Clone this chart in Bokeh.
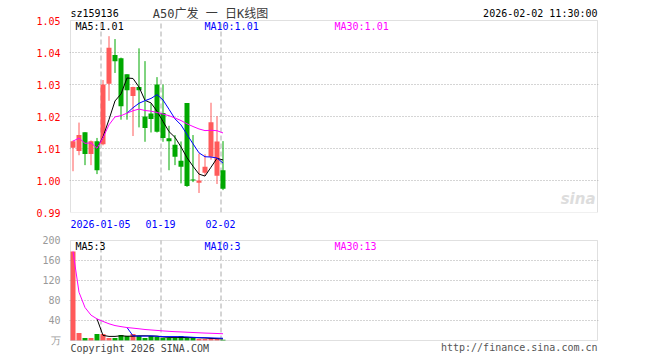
import pandas as pd
from bokeh.plotting import figure
from bokeh.layouts import column
from bokeh.models import ColumnDataSource, FixedTicker, Label, Range1d, BoxAnnotation
from bokeh.embed import file_html
from bokeh.resources import INLINE

# ---------------- data ----------------
dates = ["2025-12-25", "2025-12-26", "2025-12-29", "2025-12-30", "2025-12-31",
         "2026-01-05", "2026-01-06", "2026-01-07", "2026-01-08", "2026-01-09",
         "2026-01-12", "2026-01-13", "2026-01-14", "2026-01-15", "2026-01-16",
         "2026-01-19", "2026-01-20", "2026-01-21", "2026-01-22", "2026-01-23",
         "2026-01-26", "2026-01-27", "2026-01-28", "2026-01-29", "2026-01-30",
         "2026-02-02"]
opens = [1.0102, 1.0092, 1.0151, 1.0083, 1.0123, 1.0113, 1.0302, 1.0392, 1.0382, 1.0332,
         1.0264, 1.0292, 1.0200, 1.0209, 1.0300, 1.0211, 1.0132, 1.0112, 1.0062, 1.0242,
         1.0000, 0.9993, 1.0024, 1.0074, 1.0015, 1.0032]
highs = [1.0125, 1.0181, 1.0151, 1.0125, 1.0133, 1.0314, 1.0451, 1.0442, 1.0384, 1.0332,
         1.0293, 1.0413, 1.0373, 1.0240, 1.0323, 1.0300, 1.0171, 1.0142, 1.0122, 1.0242,
         1.0142, 1.0084, 1.0082, 1.0243, 1.0201, 1.0123]
lows = [1.0029, 1.0079, 1.0048, 1.0048, 1.0020, 1.0110, 1.0249, 1.0336, 1.0190, 1.0190,
        1.0139, 1.0166, 1.0121, 1.0150, 1.0150, 1.0121, 1.0032, 1.0048, 0.9991, 0.9980,
        0.9995, 0.9961, 1.0015, 1.0065, 0.9989, 0.9970]
closes = [1.0123, 1.0142, 1.0083, 1.0123, 1.0032, 1.0300, 1.0415, 1.0373, 1.0232, 1.0282,
          1.0292, 1.0282, 1.0164, 1.0192, 1.0152, 1.0133, 1.0123, 1.0074, 1.0043, 0.9983,
          1.0000, 1.0000, 1.0043, 1.0182, 1.0122, 0.9974]
volumes = [178, 15, 5, 5, 13, 13, 5, 5, 11, 9, 13, 9, 5, 9, 7, 5, 5, 5, 9, 5,
           5, 3, 3, 5, 3, 1.5]  # 万
price_ticks = [0.99, 1.00, 1.01, 1.02, 1.03, 1.04, 1.05]
vol_ticks = [0, 40, 80, 120, 160, 200]
vol_unit = "万"
date_tick_idx = [5, 15, 25]

code = "sz159136"
title_text = "A50广发 一 日K线图"
stamp = "2026-02-02 11:30:00"
ma_price_labels = ["MA5:1.01", "MA10:1.01", "MA30:1.01"]
ma_vol_labels = ["MA5:3", "MA10:3", "MA30:13"]
copyright_text = "Copyright 2026 SINA.COM"
url_text = "http://finance.sina.com.cn"

# ---------------- styles ----------------
RED = "#ff5a5a"
GREEN = "#00a800"
MONO = "DejaVu Sans Mono"
TITLE_FONT = "DejaVu Sans Mono, Noto Sans CJK SC"
GRID = "#aaaaaa"
BOX = "#999999"

n = len(closes)
xs = [i + 5 / 12 for i in range(n)]
colors = [RED if c > o else GREEN for o, c in zip(opens, closes)]
body_bot = [min(o, c) for o, c in zip(opens, closes)]
body_top = [max(o, c) for o, c in zip(opens, closes)]
body_top = [t if t - b > 0.0003 else b + 0.0003 for t, b in zip(body_top, body_bot)]

cs = pd.Series(closes)
vs = pd.Series(volumes)
src = ColumnDataSource(dict(
    x=xs, high=highs, low=lows, top=body_top, bottom=body_bot, color=colors,
    vol=volumes,
    ma5=cs.rolling(5).mean(), ma10=cs.rolling(10).mean(),
    ma30=cs.rolling(30, min_periods=1).mean(),
    vma5=vs.rolling(5).mean(), vma10=vs.rolling(10).mean(),
    vma30=vs.rolling(30, min_periods=1).mean(),
))

# pixel helpers: 6 px per candle, candle 0 starts at px 70
def px2x(px):
    return (px - 70) / 6


def py_price(py):
    return 0.99 + (212 - py) / 3200


def py_vol(py):
    return (340 - py) * 2


X0, X1 = px2x(69), px2x(598)
dash_x = [i + 0.5 / 6 for i in date_tick_idx]


def lab(fig, x, y, text, color="black", align="left", font=MONO, size="10px", style="normal"):
    fig.add_layout(Label(x=x, y=y, text=text, text_color=color, text_align=align,
                         text_baseline="middle", text_font=font, text_font_size=size,
                         text_font_style=style))


def style_yaxis(fig, ticks, color):
    fig.yaxis.ticker = FixedTicker(ticks=ticks)
    fig.yaxis.major_label_text_color = color
    fig.yaxis.major_label_text_font = MONO
    fig.yaxis.major_label_text_font_size = "10px"
    fig.yaxis.major_label_standoff = 3
    fig.yaxis.axis_line_color = None
    fig.yaxis.major_tick_line_color = None
    fig.yaxis.minor_tick_line_color = None


# ---------------- price panel (canvas rows 0..230) ----------------
p = figure(width=660, height=230, output_backend="svg", toolbar_location=None,
           x_range=Range1d(X0, X1), y_range=Range1d(py_price(212), py_price(0)),
           min_border_left=69, min_border_right=62, min_border_top=0, min_border_bottom=18,
           background_fill_color="white", border_fill_color="white")
p.outline_line_color = None
style_yaxis(p, price_ticks, "#ff0000")
p.yaxis.major_label_overrides = {t: f"{t:.2f}" for t in price_ticks}

p.xaxis.ticker = FixedTicker(ticks=date_tick_idx)
p.xaxis.major_label_overrides = {
    date_tick_idx[0]: dates[date_tick_idx[0]],
    date_tick_idx[1]: dates[date_tick_idx[1]][5:],
    date_tick_idx[2]: dates[date_tick_idx[2]][5:],
}
p.xaxis.major_label_text_color = "#0000ff"
p.xaxis.major_label_text_font = MONO
p.xaxis.major_label_text_font_size = "10px"
p.xaxis.major_label_standoff = 1
p.xaxis.axis_line_color = None
p.xaxis.major_tick_line_color = None
p.xaxis.minor_tick_line_color = None

p.xgrid.visible = False
p.ygrid.ticker = FixedTicker(ticks=price_ticks[1:-1])
p.ygrid.grid_line_color = GRID
p.ygrid.grid_line_dash = "1 2"
p.segment(x0=dash_x, y0=price_ticks[0], x1=dash_x, y1=price_ticks[-1],
          line_color=GRID, line_dash="5 3", line_width=1)
p.add_layout(BoxAnnotation(left=0, right=px2x(597), bottom=price_ticks[0], top=price_ticks[-1],
                           fill_alpha=0, line_color=BOX, line_width=1))

p.segment(x0="x", y0="low", x1="x", y1="high", color="color", line_width=1, source=src)
p.vbar(x="x", width=5 / 6, top="top", bottom="bottom", fill_color="color",
       line_color=None, source=src)
p.line("x", "ma5", color="black", line_width=1, source=src)
p.line("x", "ma10", color="#0000ff", line_width=1, source=src)
p.line("x", "ma30", color="#ff00ff", line_width=1, source=src)

lab(p, px2x(70), py_price(13), code)
lab(p, px2x(210), py_price(13), title_text, color="#3a3a3a", align="center",
    font=TITLE_FONT, size="12px")
lab(p, px2x(597), py_price(13), stamp, align="right")
lab(p, px2x(75), py_price(26), ma_price_labels[0], color="black")
lab(p, px2x(204), py_price(26), ma_price_labels[1], color="#0000ff")
lab(p, px2x(334), py_price(26), ma_price_labels[2], color="#ff00ff")
lab(p, px2x(595), py_price(198), "sina", color="#dddddd", align="right",
    font="DejaVu Sans", size="15px", style="bold italic")

# ---------------- volume panel (canvas rows 230..360) ----------------
v = figure(width=660, height=130, output_backend="svg", toolbar_location=None,
           x_range=Range1d(X0, X1), y_range=Range1d(py_vol(360), py_vol(230)),
           min_border_left=69, min_border_right=62, min_border_top=0, min_border_bottom=0,
           background_fill_color="white", border_fill_color="white")
v.outline_line_color = None
v.xaxis.visible = False
style_yaxis(v, vol_ticks, "#999999")
v.yaxis.major_label_overrides = {0: vol_unit}
v.xgrid.visible = False
v.ygrid.ticker = FixedTicker(ticks=vol_ticks[1:-1])
v.ygrid.grid_line_color = GRID
v.ygrid.grid_line_dash = "1 2"
v.segment(x0=dash_x, y0=vol_ticks[0], x1=dash_x, y1=vol_ticks[-1],
          line_color=GRID, line_dash="5 3", line_width=1)
v.add_layout(BoxAnnotation(left=0, right=px2x(597), bottom=vol_ticks[0], top=vol_ticks[-1],
                           fill_alpha=0, line_color=BOX, line_width=1))

v.vbar(x="x", width=5 / 6, top="vol", bottom=0, fill_color="color", line_color=None, source=src)
v.line("x", "vma5", color="black", line_width=1, source=src)
v.line("x", "vma10", color="#0000ff", line_width=1, source=src)
v.line("x", "vma30", color="#ff00ff", line_width=1, source=src)

lab(v, px2x(75), py_vol(246), ma_vol_labels[0], color="black")
lab(v, px2x(204), py_vol(246), ma_vol_labels[1], color="#0000ff")
lab(v, px2x(334), py_vol(246), ma_vol_labels[2], color="#ff00ff")
lab(v, px2x(70), py_vol(348), copyright_text, color="#444444")
lab(v, px2x(597), py_vol(347), url_text, color="#555555", align="right")

layout = column(p, v, spacing=0)
open("out.html", "w").write(file_html(layout, INLINE))
